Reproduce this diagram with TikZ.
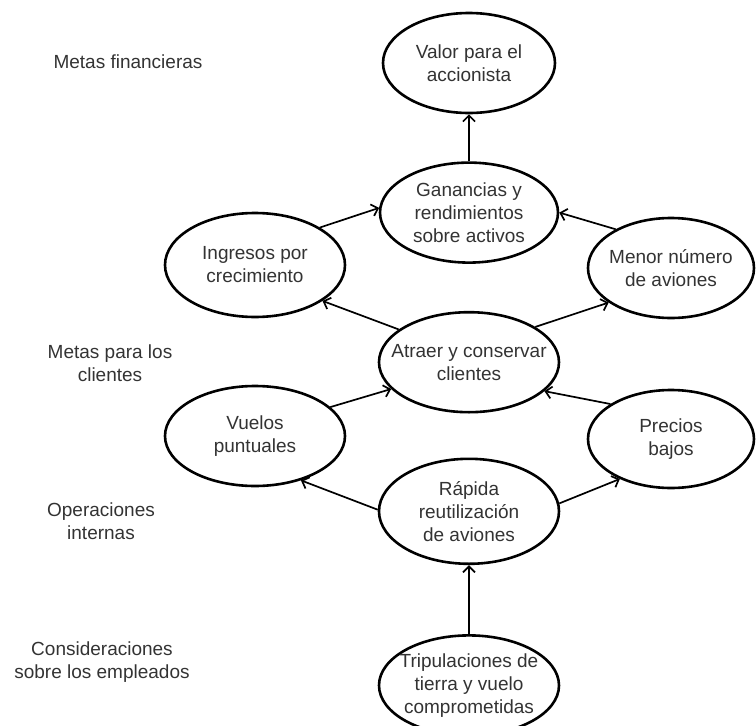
\documentclass[tikz,border=0pt]{standalone}
\usepackage{fontspec}
\setmainfont{Liberation Sans}
\usepackage{tikz}
\usetikzlibrary{shapes.geometric, arrows.meta}
\usetikzlibrary{positioning}

\begin{document}
\begin{tikzpicture}[x=1pt, y=-1pt,
    goal/.style={ellipse, draw=black, fill=white, line width=2.6pt, inner xsep=-14pt, inner ysep=0pt,
        minimum width=180pt, minimum height=100pt, align=center, text=black!80},
    level/.style={align=center, text=black!80},
    every node/.style={font=\fontsize{19}{23}\selectfont, node distance=47pt}
    ]
    \useasboundingbox (0,0) rectangle (756,726);
    
    % central column, top to bottom
    \node[goal, minimum width=172pt] (val) at (469,63) {Valor para el\\accionista};
    \node[goal, minimum width=178pt, below=of val] (gan) {Ganancias y\\rendimientos\\sobre activos};
    \node[goal, below=of gan] (atr) {Atraer y conservar\\clientes};
    \node[goal, minimum height=105pt, below=44pt of atr] (rap) {Rápida\\reutilización\\de aviones};
    \node[goal, below=69pt of rap] (tri) {Tripulaciones de\\tierra y vuelo\\comprometidas};
    
    % side nodes
    \node[goal, minimum height=104pt] (ing) at (255,265) {Ingresos por\\crecimiento};
    \node[goal, minimum width=166pt] (men) at (671,268) {Menor número\\de aviones};
    \node[goal] (vue) at (255,436) {Vuelos\\puntuales};
    \node[goal, minimum width=166pt, minimum height=98pt] (pre) at (671,439) {Precios\\bajos};
    
    % perspectives on the left
    \foreach \txt/\x/\y [count=\i] in {Metas financieras/128/62, {Metas para los\\clientes}/110/363,
        {Operaciones\\internas}/101/521, {Consideraciones\\sobre los empleados}/102/662} {
        \node[level] (lvl\i) at (\x,\y) {\txt};
    }
    
    \path[every edge/.style={draw, line width=1.7pt, -{Straight Barb[length=6pt, width=12pt]}}]
    (gan.north) edge (val.south)
    (ing.30) edge (gan.177)
    (men.145) edge (gan.0)
    (atr.155) edge (ing.-28)
    (atr.28) edge (men.209)
    (vue.21) edge (atr.199)
    (pre.150) edge (atr.-21)
    (rap.179) edge (vue.-44)
    (rap.5) edge (pre.218)
    (tri.north) edge (rap.south)
    ;
    
\end{tikzpicture}
\end{document}
